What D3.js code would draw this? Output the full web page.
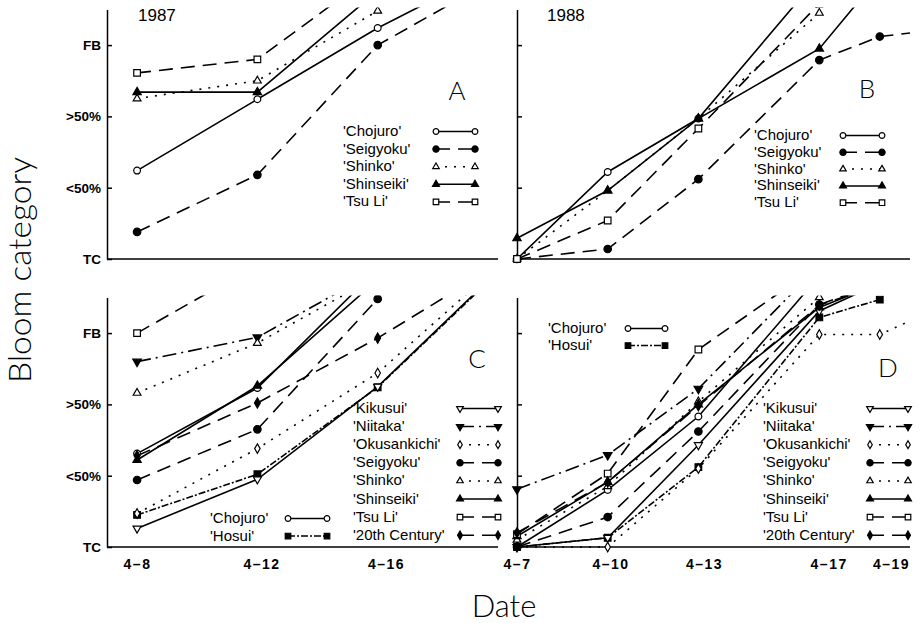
<!DOCTYPE html>
<html>
<head>
<meta charset="utf-8">
<script src="https://cdn.jsdelivr.net/npm/d3@7"></script>
<style>
  body { margin: 0; background: #fff; }
  svg { display: block; background: #fff; }
</style>
</head>
<body>
<div id="chart"></div>
<script>
// bloom category levels (y ticks) and dates (day of April)
const categories = ["TC", "<50%", ">50%", "FB"];
const dayDomain = [7, 20];
const ticksLeft = [8, 12, 16];
const ticksRight = [7, 10, 13, 17, 19];

// A: 1987
const daysA = [8, 12, 16, 20];
const chojuroA = [1.24, 2.24, 3.24, 4.1];
const seigyokuA = [0.38, 1.18, 3.0, 3.95];
const shinkoA = [2.25, 2.5, 3.48];
const shinseikiA = [2.34, 2.34, 3.76];
const tsuLiA = [2.61, 2.8, 4.04];

// B: 1988
const daysB = [7, 10, 13, 17, 19, 20];
const chojuroB = [0, 1.22, 1.97, 3.97];
const seigyokuB = [0, 0.14, 1.12, 2.79, 3.12, 3.17];
const shinkoB = [0, 0.96, 1.97, 3.45];
const shinseikiB = [0.29, 0.96, 1.97, 2.95, 3.97];
const tsuLiB = [0, 0.54, 1.83, 3.58];

// C: 1987
const daysC = [8, 12, 16, 20];
const chojuroC = [1.31, 2.23, 3.9];
const hosuiC = [0.45, 1.02, 2.24, 3.85];
const kikusuiC = [0.26, 0.95, 2.25, 3.87];
const niitakaC = [2.6, 2.94, 3.88];
const okusankichiC = [0.47, 1.38, 2.44, 3.94];
const seigyokuC = [0.94, 1.65, 3.48];
const shinkoC = [2.16, 2.86, 3.8];
const shinseikiC = [1.22, 2.26, 3.75];
const tsuLiC = [3.0, 3.96];
const centuryC = [1.28, 2.02, 2.93, 3.96];

// D: 1988
const daysD = [7, 10, 13, 17, 19, 20];
const chojuroD = [0, 0.8, 1.83, 3.8];
const hosuiD = [0, 0.13, 1.12, 3.22, 3.47];
const kikusuiD = [0, 0.13, 1.43, 3.31, 3.7];
const niitakaD = [0.81, 1.29, 2.22, 3.95];
const okusankichiD = [0, 0, 1.1, 2.98, 2.98, 3.17];
const seigyokuD = [0, 0.42, 1.62, 3.4, 3.7];
const shinkoD = [0.1, 0.85, 2.04, 3.5];
const shinseikiD = [0.15, 0.91, 2.0, 3.36, 3.7];
const tsuLiD = [0.18, 1.03, 2.77, 3.96];
const centuryD = [0.2, 0.91, 1.98, 3.39, 3.68];

const legendAB = ["Chojuro", "Seigyoku", "Shinko", "Shinseiki", "Tsu Li"];
const legendCD = ["Kikusui", "Niitaka", "Okusankichi", "Seigyoku", "Shinko", "Shinseiki", "Tsu Li", "20th Century"];
const legendCDsmall = ["Chojuro", "Hosui"];

// marker / line look per cultivar
const styles = {
  "Chojuro": { sym: d3.symbolCircle, size: 36, fill: false, dash: null },
  "Seigyoku": { sym: d3.symbolCircle, size: 44, fill: true, dash: "14,8" },
  "Shinko": { sym: d3.symbolTriangle, size: 26, fill: false, dash: "2,7" },
  "Shinseiki": { sym: d3.symbolTriangle, size: 30, fill: true, dash: null },
  "Tsu Li": { sym: d3.symbolSquare, size: 44, fill: false, dash: "14,8" },
  "Kikusui": { sym: d3.symbolTriangle, size: 28, fill: false, dash: null, down: true },
  "Niitaka": { sym: d3.symbolTriangle, size: 32, fill: true, dash: "14,5,2,5", down: true },
  "Okusankichi": { sym: d3.symbolDiamond, size: 26, fill: false, dash: "2,7" },
  "Hosui": { sym: d3.symbolSquare, size: 44, fill: true, dash: "7,2,2,2" },
  "20th Century": { sym: d3.symbolDiamond, size: 30, fill: true, dash: "14,8" }
};

const unit = 71.3;
const font = "'Liberation Sans', Arial, sans-serif";
const lightFont = "Lato, 'Open Sans', 'Liberation Sans', sans-serif";

const panels = [
  { id: "A", left: 107, right: 498, bottom: 259, year: "1987", days: daysA,
    series: [["Chojuro", chojuroA], ["Seigyoku", seigyokuA], ["Shinko", shinkoA], ["Shinseiki", shinseikiA], ["Tsu Li", tsuLiA]],
    legends: [{ names: legendAB, tx: 343, by: 136, step: 17.6, sx: [436, 475] }],
    letter: [457, 100], labels: true, xTicks: null },
  { id: "B", left: 517, right: 910, bottom: 259, year: "1988", days: daysB,
    series: [["Chojuro", chojuroB], ["Seigyoku", seigyokuB], ["Shinko", shinkoB], ["Shinseiki", shinseikiB], ["Tsu Li", tsuLiB]],
    legends: [{ names: legendAB, tx: 754, by: 140, step: 16.8, sx: [843, 882] }],
    letter: [867, 98], labels: false, xTicks: null },
  { id: "C", left: 107, right: 498, bottom: 547, year: null, days: daysC,
    series: [["Chojuro", chojuroC], ["Hosui", hosuiC], ["Kikusui", kikusuiC], ["Niitaka", niitakaC], ["Okusankichi", okusankichiC],
             ["Seigyoku", seigyokuC], ["Shinko", shinkoC], ["Shinseiki", shinseikiC], ["Tsu Li", tsuLiC], ["20th Century", centuryC]],
    legends: [{ names: legendCD, tx: 353, by: 413, step: 18.1, sx: [460, 498] },
              { names: legendCDsmall, tx: 210, by: 523, step: 17.5, sx: [288, 327] }],
    letter: [477, 368], labels: true, xTicks: { values: ticksLeft, domain: [8, 16], range: [137, 386] } },
  { id: "D", left: 517, right: 910, bottom: 547, year: null, days: daysD,
    series: [["Chojuro", chojuroD], ["Hosui", hosuiD], ["Kikusui", kikusuiD], ["Niitaka", niitakaD], ["Okusankichi", okusankichiD],
             ["Seigyoku", seigyokuD], ["Shinko", shinkoD], ["Shinseiki", shinseikiD], ["Tsu Li", tsuLiD], ["20th Century", centuryD]],
    legends: [{ names: legendCD, tx: 763, by: 413, step: 18.1, sx: [870, 908] },
              { names: legendCDsmall, tx: 548, by: 333, step: 17, sx: [628, 665] }],
    letter: [888, 377], labels: false, xTicks: { values: ticksRight, domain: [7, 19], range: [517, 891] } }
];

const svg = d3.select("#chart").append("svg")
  .attr("width", 923)
  .attr("height", 623);
const defs = svg.append("defs");

const marker = (g, name, x, y, k = 1) => {
  const s = styles[name];
  g.append("path")
    .attr("d", d3.symbol().type(s.sym).size(s.size * k)())
    .attr("transform", `translate(${x},${y})` + (s.down ? " rotate(180)" : ""))
    .attr("fill", s.fill ? "#000" : "#fff")
    .attr("stroke", "#000")
    .attr("stroke-width", 1.2);
};

panels.forEach((p) => {
  const top = p.bottom - 3.5 * unit;
  const x = d3.scaleLinear().domain(dayDomain).range([p.left, p.right]);
  const y = d3.scaleLinear().domain([0, 3.5]).range([p.bottom, top]);
  const g = svg.append("g");

  defs.append("clipPath").attr("id", "clip" + p.id)
    .append("rect")
    .attr("x", p.left - 6).attr("y", top - 2)
    .attr("width", p.right - p.left + 8).attr("height", p.bottom - top + 10);

  // axes
  const yAxis = d3.axisLeft(y)
    .tickValues([0, 1, 2, 3])
    .tickSize(-5)
    .tickSizeOuter(0)
    .tickPadding(6)
    .tickFormat((d) => (p.labels ? categories[d] : ""));
  const ya = g.append("g").attr("transform", `translate(${p.left},0)`).call(yAxis);
  ya.selectAll("path, line").attr("stroke", "#000").attr("stroke-width", 1.5);
  ya.selectAll("text").attr("font-family", font).attr("font-weight", "bold").attr("font-size", 13.5).attr("fill", "#000");

  g.append("line")
    .attr("x1", x(dayDomain[0])).attr("x2", x(dayDomain[1]))
    .attr("y1", y(0)).attr("y2", y(0))
    .attr("stroke", "#000").attr("stroke-width", 1.5);

  if (p.xTicks) {
    const xl = d3.scaleLinear().domain(p.xTicks.domain).range(p.xTicks.range);
    const xa = g.append("g").attr("transform", `translate(0,${p.bottom})`)
      .call(d3.axisBottom(xl).tickValues(p.xTicks.values).tickSize(0).tickPadding(12).tickFormat((d) => "4\u2013" + d));
    xa.select(".domain").remove();
    xa.selectAll("text").attr("font-family", font).attr("font-weight", "bold").attr("font-size", 14)
      .attr("letter-spacing", 1.5).attr("fill", "#000");
  }

  // series
  const plot = g.append("g").attr("clip-path", `url(#clip${p.id})`);
  const line = d3.line().x((d) => x(d[0])).y((d) => y(d[1]));
  const data = p.series.map(([name, vals]) => ({ name, pts: vals.map((v, i) => [p.days[i], v]) }));

  plot.selectAll("path.series").data(data).join("path")
    .attr("class", "series")
    .attr("d", (d) => line(d.pts))
    .attr("fill", "none")
    .attr("stroke", "#000")
    .attr("stroke-width", 1.6)
    .attr("stroke-dasharray", (d) => styles[d.name].dash);

  data.forEach((d) => {
    d.pts.filter((pt) => pt[0] < 20).forEach((pt) => marker(plot, d.name, x(pt[0]), y(pt[1])));
  });

  // legends
  p.legends.forEach((lg) => {
    lg.names.forEach((name, i) => {
      const by = lg.by + i * lg.step;
      g.append("text")
        .attr("x", lg.tx).attr("y", by)
        .attr("font-family", font).attr("font-size", 15)
        .text(`'${name}'`);
      g.append("line")
        .attr("x1", lg.sx[0]).attr("x2", lg.sx[1])
        .attr("y1", by - 4.5).attr("y2", by - 4.5)
        .attr("stroke", "#000").attr("stroke-width", 1.5)
        .attr("stroke-dasharray", styles[name].dash);
      marker(g, name, lg.sx[0], by - 4.5, 0.7);
      marker(g, name, lg.sx[1], by - 4.5, 0.7);
    });
  });

  if (p.year) {
    g.append("text").attr("x", p.left + (p.id === "A" ? 31 : 30)).attr("y", 21)
      .attr("font-family", font).attr("font-size", 17).text(p.year);
  }
  g.append("text")
    .attr("x", p.letter[0]).attr("y", p.letter[1])
    .attr("text-anchor", "middle")
    .attr("font-family", lightFont).attr("font-weight", 300).attr("font-size", 26)
    .text(p.id);
});

svg.append("text")
  .attr("transform", "translate(31,270) rotate(-90)")
  .attr("text-anchor", "middle")
  .attr("font-family", lightFont).attr("font-weight", 300).attr("font-size", 31)
  .attr("textLength", 226).attr("lengthAdjust", "spacingAndGlyphs")
  .text("Bloom category");

svg.append("text")
  .attr("x", 504).attr("y", 617)
  .attr("text-anchor", "middle")
  .attr("font-family", lightFont).attr("font-weight", 300).attr("font-size", 31)
  .text("Date");
</script>
</body>
</html>
